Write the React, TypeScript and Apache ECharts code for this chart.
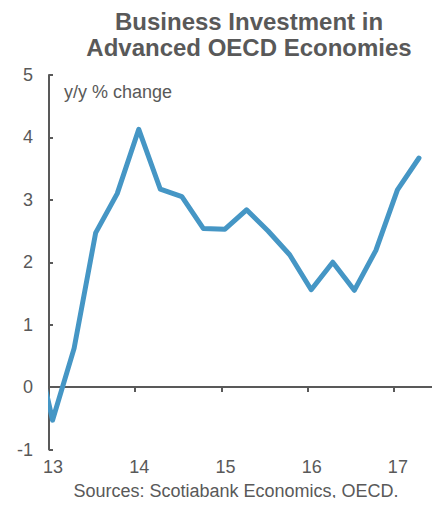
import React, { useEffect, useRef } from "react";
import * as echarts from "echarts";

const quarters = [
  "2012Q4", "2013Q1", "2013Q2", "2013Q3", "2013Q4",
  "2014Q1", "2014Q2", "2014Q3", "2014Q4",
  "2015Q1", "2015Q2", "2015Q3", "2015Q4",
  "2016Q1", "2016Q2", "2016Q3", "2016Q4",
  "2017Q1", "2017Q2",
];
const values = [
  1.0, -0.53, 0.62, 2.47, 3.1,
  4.13, 3.17, 3.05, 2.54,
  2.53, 2.84, 2.5, 2.12,
  1.56, 2.0, 1.55, 2.19,
  3.16, 3.67,
];
const yTicks = [-1, 0, 1, 2, 3, 4, 5];
const xYears = [13, 14, 15, 16, 17];

const TITLE_1 = "Business Investment in";
const TITLE_2 = "Advanced OECD Economies";
const UNIT = "y/y % change";
const SOURCE = "Sources: Scotiabank Economics, OECD.";

const GRAY = "#595959";
const BLUE = "#4596c5";
const FONT = "Liberation Sans, Arial, sans-serif";

function quarterToX(q: string): number {
  const yr = parseInt(q.slice(0, 4), 10) - 2000;
  const qn = parseInt(q.slice(5), 10);
  // observations dated mid-month of first month of quarter
  return yr + (qn - 1) * 0.25 + 15 / 365;
}

export default function App() {
  const ref = useRef<HTMLDivElement>(null);
  useEffect(() => {
    if (!ref.current) return;
    const chart = echarts.init(ref.current, undefined, { renderer: "svg" });
    const data = quarters.map((q, i) => [quarterToX(q), values[i]]);
    const txt = (text: string, size: number, bold: boolean, align: string) => ({
      text,
      fill: GRAY,
      fontFamily: FONT,
      fontSize: size,
      fontWeight: bold ? "bold" : "normal",
      textAlign: align,
      textVerticalAlign: "middle",
    });
    chart.setOption({
      animation: false,
      textStyle: { fontFamily: FONT },
      grid: { left: 49, right: 0, top: 75, bottom: 56.5, containLabel: false },
      xAxis: [
        {
          type: "value",
          min: xYears[0],
          max: 17.5,
          interval: 1,
          position: "bottom",
          axisLine: { show: true, onZero: true, lineStyle: { color: GRAY, width: 2 } },
          axisTick: { show: true, inside: false, length: 5, lineStyle: { color: GRAY, width: 2 } },
          axisLabel: { show: false },
          splitLine: { show: false },
        },
        {
          type: "value",
          min: xYears[0],
          max: 17.5,
          interval: 1,
          position: "bottom",
          axisLine: { show: false, onZero: false },
          axisTick: { show: false },
          axisLabel: {
            show: true,
            color: GRAY,
            fontSize: 18,
            fontFamily: FONT,
            margin: 8,
            padding: [0, 0, 0, 8],
            formatter: (v: number) => (xYears.includes(v) ? String(v) : ""),
          },
          splitLine: { show: false },
        },
      ],
      yAxis: {
        type: "value",
        min: yTicks[0],
        max: yTicks[yTicks.length - 1],
        interval: 1,
        axisLine: { show: true, onZero: false, lineStyle: { color: GRAY, width: 2 } },
        axisTick: { show: true, inside: true, length: 4, lineStyle: { color: GRAY, width: 2 } },
        axisLabel: { color: GRAY, fontSize: 18, fontFamily: FONT, margin: 16 },
        splitLine: { show: false },
      },
      graphic: [
        {
          type: "rect",
          z: 100,
          shape: { x: 38, y: 370, width: 10, height: 70 },
          style: { fill: "#ffffff" },
          silent: true,
        },
        { type: "text", x: 249, y: 21, style: txt(TITLE_1, 24, true, "center") },
        { type: "text", x: 249, y: 47, style: txt(TITLE_2, 24, true, "center") },
        { type: "text", x: 64, y: 92, style: txt(UNIT, 18, false, "left") },
        { type: "text", x: 236, y: 491, style: txt(SOURCE, 18, false, "center") },
      ],
      series: [
        {
          type: "line",
          xAxisIndex: 0,
          data,
          showSymbol: false,
          symbol: "none",
          clip: true,
          lineStyle: { color: BLUE, width: 5, join: "round", cap: "round" },
        },
      ],
    });
    return () => chart.dispose();
  }, []);
  return <div ref={ref} style={{ width: 440, height: 506, margin: -8 }} />;
}
